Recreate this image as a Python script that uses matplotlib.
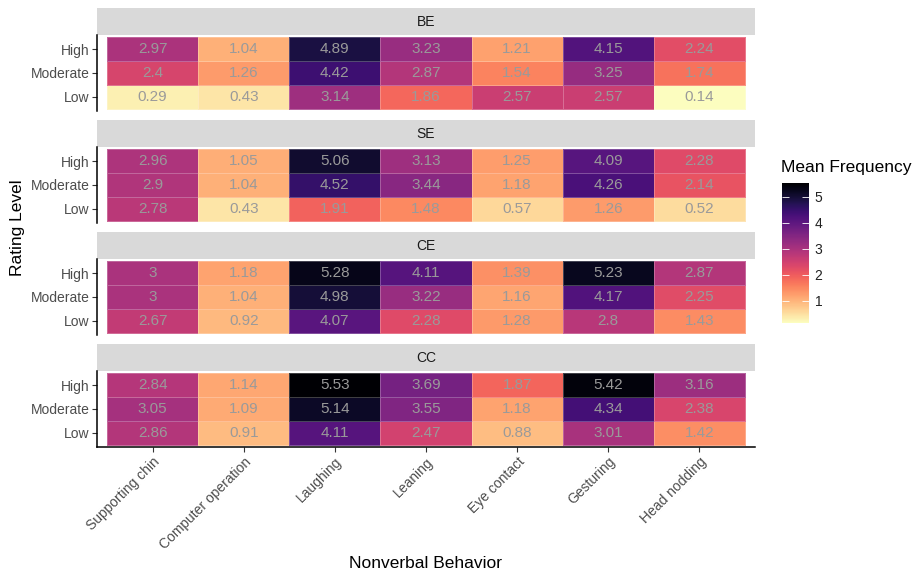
import numpy as np
import matplotlib
matplotlib.use("Agg")
import matplotlib.pyplot as plt
from matplotlib.colors import Normalize
from matplotlib.cm import ScalarMappable
from matplotlib.transforms import ScaledTranslation

plt.rcParams['font.family'] = ['Liberation Sans', 'DejaVu Sans']

behaviors = ["Supporting chin", "Computer operation", "Laughing", "Leaning",
             "Eye contact", "Gesturing", "Head nodding"]
levels = ["Low", "Moderate", "High"]          # bottom -> top
groups = ["BE", "SE", "CE", "CC"]

# rows: High, Moderate, Low
BE = [[2.97, 1.04, 4.89, 3.23, 1.21, 4.15, 2.24],
      [2.40, 1.26, 4.42, 2.87, 1.54, 3.25, 1.74],
      [0.29, 0.43, 3.14, 1.86, 2.57, 2.57, 0.14]]
SE = [[2.96, 1.05, 5.06, 3.13, 1.25, 4.09, 2.28],
      [2.90, 1.04, 4.52, 3.44, 1.18, 4.26, 2.14],
      [2.78, 0.43, 1.91, 1.48, 0.57, 1.26, 0.52]]
CE = [[3.00, 1.18, 5.28, 4.11, 1.39, 5.23, 2.87],
      [3.00, 1.04, 4.98, 3.22, 1.16, 4.17, 2.25],
      [2.67, 0.92, 4.07, 2.28, 1.28, 2.80, 1.43]]
CC = [[2.84, 1.14, 5.53, 3.69, 1.87, 5.42, 3.16],
      [3.05, 1.09, 5.14, 3.55, 1.18, 4.34, 2.38],
      [2.86, 0.91, 4.11, 2.47, 0.88, 3.01, 1.42]]
group_data = [BE, SE, CE, CC]

W, H = 920, 575
fig = plt.figure(figsize=(W / 100, H / 100), dpi=100)

def fx(px):
    return px / W

def fy(py):
    return 1 - py / H

allvals = np.array(group_data)
norm = Normalize(vmin=allvals.min(), vmax=allvals.max())
cmap = plt.get_cmap("magma_r")

panel_left, panel_right = 97, 755
strip_tops = [8, 120, 232, 344]
strip_h = 27
panel_h = 76

xs = np.arange(len(behaviors))
for gi, (g, data) in enumerate(zip(groups, group_data)):
    st = strip_tops[gi]
    # strip
    sax = fig.add_axes([fx(panel_left), fy(st + strip_h), fx(panel_right - panel_left), strip_h / H])
    sax.set_facecolor("#D9D9D9")
    sax.set_xticks([]); sax.set_yticks([])
    for s in sax.spines.values():
        s.set_visible(False)
    sax.text(0.5, 0.5, g, ha="center", va="center", fontsize=10, color="#1A1A1A",
             transform=sax.transAxes)

    ptop = st + strip_h
    ax = fig.add_axes([fx(panel_left), fy(ptop + panel_h), fx(panel_right - panel_left), panel_h / H])
    arr = np.array(data)[::-1]  # Low, Moderate, High bottom->top
    xe = np.arange(len(behaviors) + 1) - 0.5
    ye = np.arange(len(levels) + 1) - 0.5
    ax.pcolormesh(xe, ye, arr, cmap=cmap, norm=norm,
                  edgecolors=[(1, 1, 1, 0.25)], linewidth=0.4)
    for r in range(len(levels)):
        for c in range(len(behaviors)):
            v = arr[r, c]
            ax.text(c, r, f"{v:g}", ha="center", va="center", fontsize=11,
                    color="#9A9A9A")
    ax.set_xlim(-0.5 - 0.11, len(behaviors) - 0.5 + 0.11)
    ax.set_ylim(-0.5 - 0.085, len(levels) - 0.5 + 0.085)
    ax.set_yticks(range(len(levels)))
    ax.set_yticklabels(levels, fontsize=10, color="#4D4D4D")
    ax.tick_params(axis="y", length=3.5, width=0.8, color="#333333", pad=2)
    for s in ["top", "right"]:
        ax.spines[s].set_visible(False)
    ax.spines["left"].set_linewidth(1.1)
    if gi == len(groups) - 1:
        ax.set_xticks(xs)
        labs = ax.set_xticklabels(behaviors, rotation=45, ha="right", va="top",
                                  rotation_mode="anchor", fontsize=10, color="#4D4D4D")
        off = ScaledTranslation(6 / 100, -3 / 100, fig.dpi_scale_trans)
        for lab in labs:
            lab.set_transform(lab.get_transform() + off)
        ax.tick_params(axis="x", length=3.5, width=0.8, color="#333333", pad=2)
        ax.spines["bottom"].set_linewidth(1.1)
    else:
        ax.set_xticks([])
        ax.spines["bottom"].set_visible(False)

fig.text(fx(18), fy(228), "Rating Level", rotation=90, ha="center", va="center",
         fontsize=12.5, color="black")
fig.text(fx(426), fy(563), "Nonverbal Behavior", ha="center", va="center",
         fontsize=12.5, color="black")

# legend
fig.text(fx(781), fy(167), "Mean Frequency", ha="left", va="center", fontsize=12.5)
cax = fig.add_axes([fx(782), fy(323), fx(27), 140 / H])
cb = fig.colorbar(ScalarMappable(norm=norm, cmap=cmap), cax=cax, ticks=[1, 2, 3, 4, 5])
cb.outline.set_visible(False)
cax.tick_params(direction="in", color="white", length=5, width=0.6,
                left=True, right=True, labelsize=10, labelcolor="#222222", pad=4)

fig.savefig("out.png", dpi=100)
